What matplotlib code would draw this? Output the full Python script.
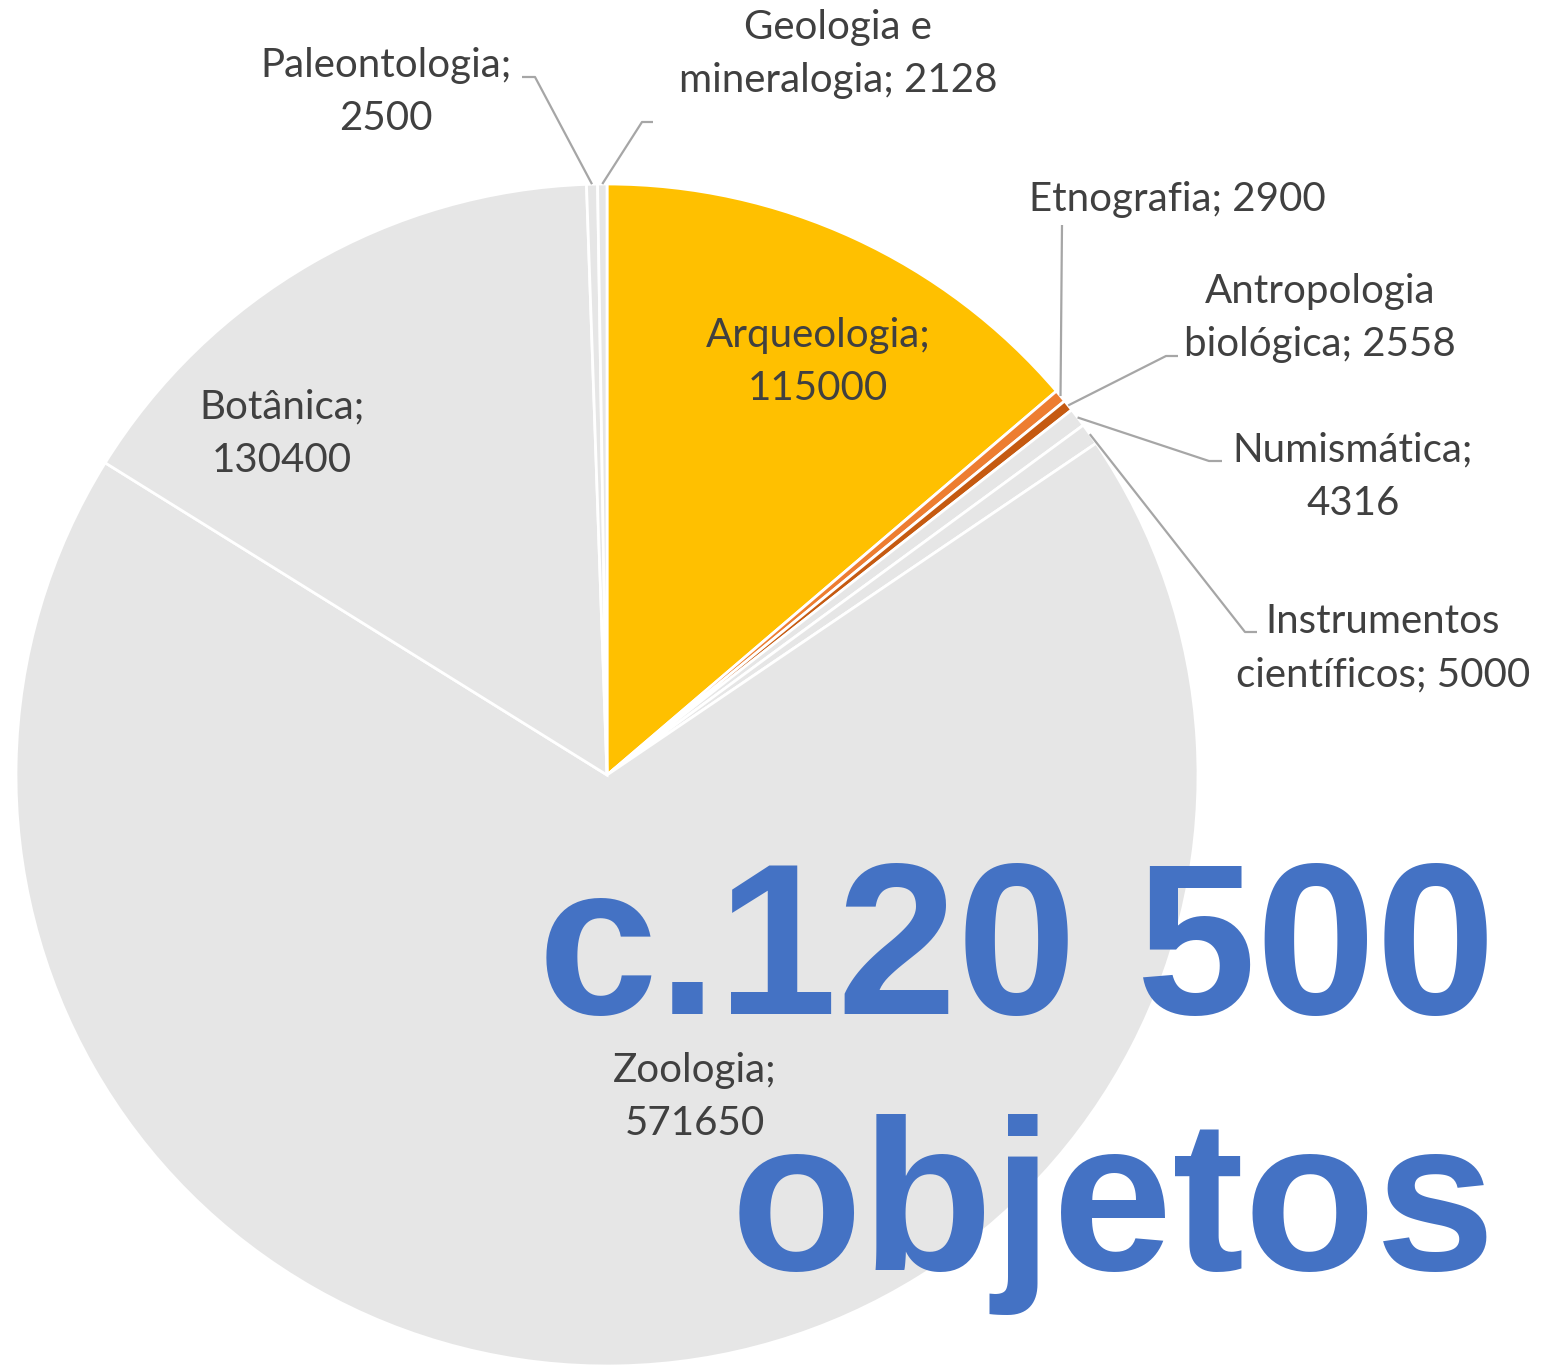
import numpy as np
import matplotlib
matplotlib.use("Agg")
import matplotlib.pyplot as plt

# data (clockwise from 12 o'clock)
categories = ["Arqueologia", "Etnografia", "Antropologia\nbiológica", "Numismática",
              "Instrumentos\ncientíficos", "Zoologia", "Botânica", "Paleontologia",
              "Geologia e\nmineralogia"]
values = [115000, 2900, 2558, 4316, 5000, 571650, 130400, 2500, 2128]
colors = ["#FFC000", "#ED7D31", "#C55A11", "#E6E6E6", "#E6E6E6",
          "#E6E6E6", "#E6E6E6", "#E6E6E6", "#E6E6E6"]
headline = ["c.120 500", "objetos"]

W, H = 1550, 1369
cx, cy, R = 607, 775, 591
txt_col = "#404040"
lead_col = "#A6A6A6"
FS = 29
LS = 1.56
plt.rcParams['font.family'] = ['Lato', 'DejaVu Sans']


def P(x, y):
    # pixel coords (y down) -> data coords
    return x, H - y


fig = plt.figure(figsize=(W / 100, H / 100), dpi=100)
ax = fig.add_axes([0, 0, 1, 1])

wedges, _ = ax.pie(values, colors=colors, startangle=90, counterclock=False,
                   center=P(cx, cy), radius=R, frame=True,
                   wedgeprops=dict(edgecolor='white', linewidth=2.0))
ax.set_xlim(0, W)
ax.set_ylim(0, H)
ax.set_aspect('equal')
ax.axis('off')


def label(i, x, y, ha='center', sep=";"):
    name = categories[i]
    if "\n" in name:
        s = "%s%s %d" % (name, sep, values[i])
    else:
        s = "%s%s\n%d" % (name, sep, values[i])
    ax.text(*P(x, y), s, ha=ha, va='center', fontsize=FS, color=txt_col,
            linespacing=LS)


def edge_point(i):
    w = wedges[i]
    a = np.deg2rad((w.theta1 + w.theta2) / 2)
    return w.center[0] + R * np.cos(a), w.center[1] + R * np.sin(a)


def leader(i, pts):
    x0, y0 = edge_point(i)
    xs = [x0] + [p[0] for p in pts]
    ys = [y0] + [H - p[1] for p in pts]
    ax.plot(xs, ys, color=lead_col, linewidth=1.6, solid_capstyle='butt')


# labels inside slices
label(0, 818, 362)
label(5, 695, 1097)
label(6, 282, 434)

# outside labels with leader lines
label(7, 386, 92)
leader(7, [(535, 77), (522, 77)])
label(8, 838, 54)
leader(8, [(642, 122), (653, 122)])
ax.text(*P(1177, 200), "%s; %d" % (categories[1], values[1]), ha='center',
        va='center', fontsize=FS, color=txt_col)
leader(1, [(1062, 225)])
label(2, 1320, 318)
leader(2, [(1166, 356), (1178, 356)])
label(3, 1353, 477)
leader(3, [(1209, 461), (1222, 461)])
label(4, 1383, 648)
leader(4, [(1245, 632), (1257, 632)])

# headline
for line, base in zip(headline, [1014, 1270]):
    ax.text(*P(1496, base), line, ha='right', va='baseline',
            fontsize=155, fontweight='bold', color='#4472C4',
            family='Liberation Sans')

plt.savefig("out.png", dpi=100)
